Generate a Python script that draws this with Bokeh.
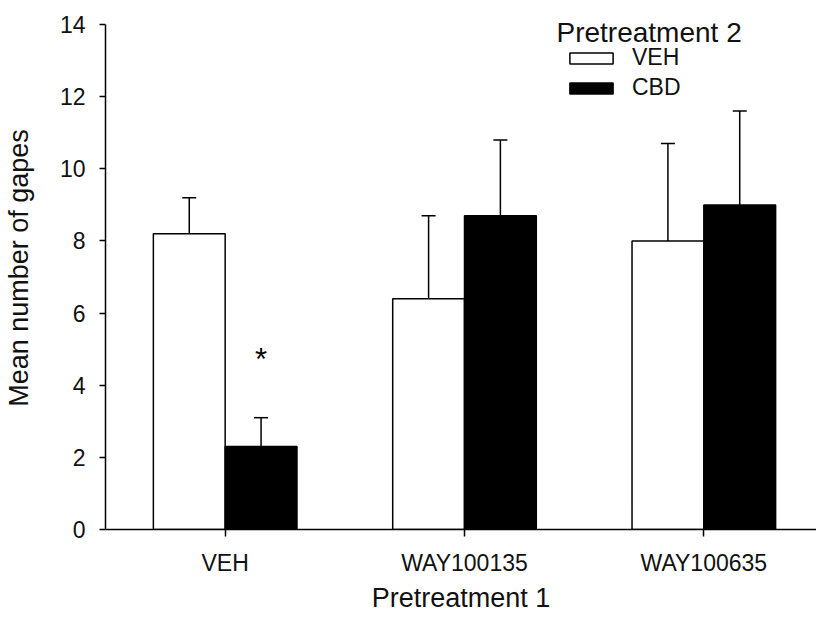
from bokeh.plotting import figure
from bokeh.models import (ColumnDataSource, FixedTicker, Whisker, TeeHead, Legend, LegendItem, Label)
from bokeh.core.properties import value
from bokeh.embed import file_html
from bokeh.resources import INLINE

# ---- data ----
groups = ["VEH", "WAY100135", "WAY100635"]
veh_means = [8.2, 6.4, 8.0]
veh_sem = [1.0, 2.3, 2.7]
cbd_means = [2.3, 8.7, 9.0]
cbd_sem = [0.8, 2.1, 2.6]
significant = [True, False, False]   # CBD vs VEH within group
y_ticks = [0, 2, 4, 6, 8, 10, 12, 14]

FONT = "Liberation Sans"
xpos = [i + 1 for i in range(len(groups))]
bw = 0.3

src_veh = ColumnDataSource(dict(
    x=[x - bw / 2 for x in xpos], top=veh_means,
    upper=[m + s for m, s in zip(veh_means, veh_sem)]))
src_cbd = ColumnDataSource(dict(
    x=[x + bw / 2 for x in xpos], top=cbd_means,
    upper=[m + s for m, s in zip(cbd_means, cbd_sem)]))

p = figure(width=816, height=620, output_backend="svg", toolbar_location=None,
           x_range=(0.5, 3.4708), y_range=(0, 14.5),
           min_border_left=103, min_border_right=0, min_border_top=6, min_border_bottom=91)
p.outline_line_color = None
p.grid.visible = False
p.background_fill_color = "white"
p.border_fill_color = "white"

r_veh = p.vbar(x="x", top="top", width=bw, source=src_veh, fill_color="white",
               line_color="black", line_width=1.5)
r_cbd = p.vbar(x="x", top="top", width=bw, source=src_cbd, fill_color="black",
               line_color="black", line_width=1.5)

for src in (src_veh, src_cbd):
    w = Whisker(base="x", lower="top", upper="upper", source=src, line_width=1.5,
                line_color="black",
                upper_head=TeeHead(size=14, line_width=1.5, line_color="black"),
                lower_head=None, level="underlay")
    p.add_layout(w)

# significance marker above CBD error bar
star_x = [x + bw / 2 for x, s in zip(xpos, significant) if s]
star_y = [m + s + 1.62 for m, s, sig in zip(cbd_means, cbd_sem, significant) if sig]
p.text(x=star_x, y=star_y, text=["*"] * len(star_x), text_align="center",
       text_baseline="middle", text_font=value(FONT), text_font_size="31px",
       text_color="black")

# axes
p.xaxis.ticker = FixedTicker(ticks=xpos)
p.xaxis.major_label_overrides = {x: g for x, g in zip(xpos, groups)}
p.yaxis.ticker = FixedTicker(ticks=y_ticks)
p.yaxis.bounds = (y_ticks[0], y_ticks[-1])
for ax in (p.xaxis, p.yaxis):
    ax.axis_line_width = 1.5
    ax.axis_line_color = "black"
    ax.major_tick_line_width = 1.5
    ax.major_tick_line_color = "black"
    ax.major_tick_in = 0
    ax.minor_tick_line_color = None
    ax.major_label_text_font = FONT
    ax.major_label_text_font_size = "23px"
    ax.major_label_text_color = "#111111"
    ax.axis_label_text_font = FONT
    ax.axis_label_text_font_size = "27px"
    ax.axis_label_text_font_style = "normal"
    ax.axis_label_text_color = "#111111"
p.xaxis.major_tick_out = 7
p.yaxis.major_tick_out = 6
p.xaxis.major_label_standoff = 13
p.yaxis.major_label_standoff = 14
p.xaxis.axis_label = "Pretreatment 1"
p.yaxis.axis_label = "Mean number of gapes"
p.xaxis.axis_label_standoff = 4
p.yaxis.axis_label_standoff = 23

legend = Legend(items=[LegendItem(label="VEH", renderers=[r_veh]),
                       LegendItem(label="CBD", renderers=[r_cbd])],
                location=(459, 428),
                label_text_font=FONT, label_text_font_size="23px", label_text_color="#111111",
                glyph_width=54, glyph_height=14, label_standoff=14,
                padding=0, margin=0, spacing=3,
                border_line_color=None, background_fill_alpha=0)
p.add_layout(legend)

p.add_layout(Label(x=451, y=497, x_units="screen", y_units="screen",
                   text="Pretreatment 2", text_font=FONT, text_font_size="28px",
                   text_baseline="middle", text_color="#111111"))

open("out.html", "w").write(file_html(p, INLINE))
